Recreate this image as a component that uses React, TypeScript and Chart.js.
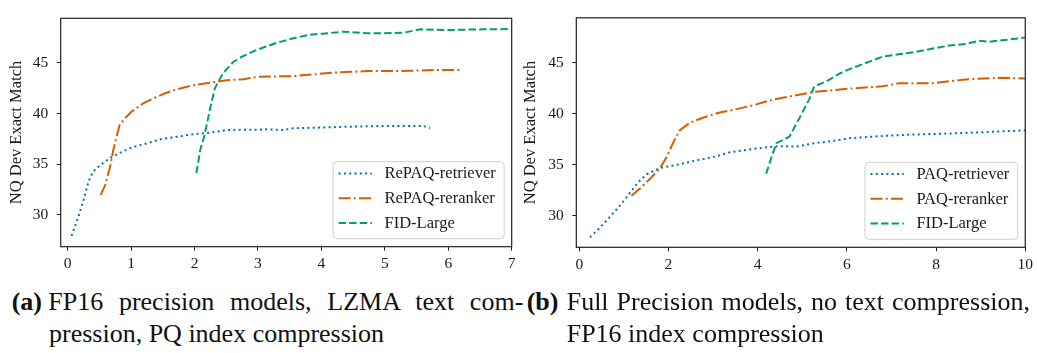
import React, { useEffect, useRef } from 'react';
import { Chart, registerables } from 'chart.js';
Chart.register(...registerables);

// ---------- data: panel (a) ----------
const retrieverA_x = [0.06, 0.17, 0.25, 0.33, 0.40, 0.51, 0.67, 0.82, 1.01, 1.25, 1.46, 1.72, 1.98, 2.24, 2.51, 2.77, 3.03, 3.14, 3.40, 3.56, 3.93, 4.45, 4.98, 5.61, 5.71];
const retrieverA_y = [27.9, 29.8, 31.45, 33.3, 34.25, 34.9, 35.6, 36.1, 36.65, 37.05, 37.45, 37.7, 37.95, 38.1, 38.37, 38.4, 38.4, 38.44, 38.37, 38.55, 38.6, 38.7, 38.77, 38.77, 38.54];
const rerankerA_x = [0.52, 0.59, 0.67, 0.72, 0.77, 0.82, 0.90, 1.01, 1.19, 1.35, 1.56, 1.72, 1.98, 2.24, 2.51, 2.77, 3.03, 3.56, 4.19, 4.72, 5.25, 5.77, 6.18];
const rerankerA_y = [31.95, 32.9, 34.75, 36.4, 37.7, 38.87, 39.5, 40.2, 41.0, 41.5, 42.06, 42.4, 42.8, 43.05, 43.3, 43.4, 43.65, 43.7, 44.04, 44.2, 44.2, 44.3, 44.3];
const fidA_x = [2.03, 2.09, 2.16, 2.24, 2.32, 2.45, 2.61, 2.74, 2.98, 3.30, 3.56, 3.82, 4.03, 4.35, 4.72, 4.98, 5.30, 5.56, 5.98, 6.56, 7.0];
const fidA_y = [34.1, 36.4, 37.9, 40.35, 42.5, 44.0, 45.1, 45.6, 46.3, 47.0, 47.45, 47.8, 47.9, 48.1, 47.94, 47.94, 48.0, 48.33, 48.26, 48.33, 48.36];

// ---------- data: panel (b) ----------
const retrieverB_x = [0.24, 0.46, 0.69, 0.91, 1.13, 1.32, 1.51, 1.81, 2.25, 2.63, 3.0, 3.37, 3.74, 4.12, 4.49, 4.86, 5.23, 5.76, 6.06, 6.81, 7.55, 8.3, 9.05, 10];
const retrieverB_y = [27.88, 28.8, 29.9, 30.97, 32.2, 33.27, 34.04, 34.66, 35.03, 35.42, 35.73, 36.19, 36.44, 36.65, 36.81, 36.75, 37.06, 37.36, 37.58, 37.8, 37.95, 38.04, 38.17, 38.35];
const rerankerB_x = [1.17, 1.36, 1.58, 1.81, 1.96, 2.10, 2.25, 2.48, 2.77, 3.15, 3.45, 3.89, 4.34, 4.79, 5.23, 6.06, 6.81, 7.18, 7.92, 8.67, 9.42, 10];
const rerankerB_y = [31.95, 32.65, 33.58, 34.66, 35.73, 37.1, 38.35, 39.1, 39.58, 40.1, 40.35, 40.8, 41.36, 41.73, 42.1, 42.44, 42.66, 42.97, 42.97, 43.34, 43.49, 43.43];
const fidB_x = [4.19, 4.30, 4.42, 4.71, 4.94, 5.16, 5.27, 5.53, 5.83, 6.06, 6.81, 7.55, 8.3, 8.67, 8.97, 9.2, 10];
const fidB_y = [34.1, 35.58, 37.1, 37.73, 39.58, 41.43, 42.66, 43.12, 43.9, 44.35, 45.58, 46.04, 46.66, 46.8, 47.12, 47.03, 47.43];

// ---------- labels / ticks ----------
const labelsA = ['RePAQ-retriever', 'RePAQ-reranker', 'FID-Large'];
const labelsB = ['PAQ-retriever', 'PAQ-reranker', 'FID-Large'];
const yTicks = [30, 35, 40, 45];
const xTicksA = [0, 1, 2, 3, 4, 5, 6, 7];
const xTicksB = [0, 2, 4, 6, 8, 10];
const yTitle = 'NQ Dev Exact Match';

const BLUE = '#0173B2';
const ORANGE = '#D55E00';
const GREEN = '#029E73';
const FONT = '"Liberation Serif", "DejaVu Serif", serif';
const INK = '#1a1a1a';

const DASH_DOT = [2, 3.3];
const DASH_DASHDOT = [12, 3.2, 2, 3.2];
const DASH_DASH = [7.4, 3.2];

const zip = (xs: number[], ys: number[]) => xs.map((x, i) => ({ x, y: ys[i] }));

const boxLegendPlugin = {
  id: 'boxLegend',
  afterDraw(chart: any) {
    const ctx = chart.ctx;
    const ca = chart.chartArea;
    ctx.save();
    ctx.strokeStyle = '#222';
    ctx.lineWidth = 1.2;
    ctx.setLineDash([]);
    ctx.strokeRect(ca.left, ca.top, ca.right - ca.left, ca.bottom - ca.top);
    ctx.restore();

    const ds = chart.data.datasets;
    ctx.save();
    ctx.font = `16.5px ${FONT}`;
    let tw = 0;
    ds.forEach((d: any) => { tw = Math.max(tw, ctx.measureText(d.label).width); });
    const w = 6 + 33.3 + 12.6 + tw + 8;
    const h = 77;
    const x1 = ca.right - 8 - w;
    const y1 = ca.bottom - 8.5 - h;
    ctx.beginPath();
    (ctx as any).roundRect(x1 + 0.5, y1 + 0.5, w, h, 4);
    ctx.fillStyle = 'rgba(255,255,255,0.85)';
    ctx.fill();
    ctx.strokeStyle = '#cfcfcf';
    ctx.lineWidth = 1;
    ctx.stroke();
    ds.forEach((d: any, i: number) => {
      const y = y1 + 12.3 + i * 24.7;
      ctx.beginPath();
      ctx.setLineDash(d.borderDash || []);
      ctx.strokeStyle = d.borderColor;
      ctx.lineWidth = d.borderWidth;
      ctx.moveTo(x1 + 6, y);
      ctx.lineTo(x1 + 39.3, y);
      ctx.stroke();
      ctx.setLineDash([]);
      ctx.fillStyle = INK;
      ctx.textBaseline = 'middle';
      ctx.textAlign = 'left';
      ctx.fillText(d.label, x1 + 51.9, y + 0.5);
    });
    ctx.restore();
  },
};

type PanelProps = {
  width: number;
  height: number;
  left: number;
  labels: string[];
  series: { x: number; y: number }[][];
  xMin: number; xMax: number; yMin: number; yMax: number;
  xTicks: number[];
  padTop: number; padRight: number;
  yAxisWidth: number; xAxisHeight: number;
  titlePad: number;
};

function Panel(p: PanelProps) {
  const ref = useRef<HTMLCanvasElement>(null);
  useEffect(() => {
    if (!ref.current) return;
    const colors = [BLUE, ORANGE, GREEN];
    const dashes = [DASH_DOT, DASH_DASHDOT, DASH_DASH];
    const chart = new Chart(ref.current, {
      type: 'line',
      data: {
        datasets: p.series.map((s, i) => ({
          label: p.labels[i],
          data: s,
          borderColor: colors[i],
          backgroundColor: colors[i],
          borderWidth: 2,
          borderDash: dashes[i],
          borderCapStyle: 'butt',
          pointRadius: 0,
          tension: 0,
          fill: false,
        })),
      },
      options: {
        responsive: false,
        animation: false,
        layout: { padding: { top: p.padTop, right: p.padRight, left: 0, bottom: 0 } },
        plugins: { legend: { display: false }, tooltip: { enabled: false } },
        scales: {
          x: {
            type: 'linear',
            min: p.xMin,
            max: p.xMax,
            afterBuildTicks: (s: any) => { s.ticks = p.xTicks.map((v) => ({ value: v })); },
            afterFit: (s: any) => { s.height = p.xAxisHeight; },
            border: { display: false },
            grid: { drawOnChartArea: false, drawTicks: true, tickLength: 4, color: '#222', lineWidth: 1 },
            ticks: { color: INK, font: { family: FONT, size: 15.5 }, padding: 4, maxRotation: 0, autoSkip: false },
          },
          y: {
            type: 'linear',
            min: p.yMin,
            max: p.yMax,
            afterBuildTicks: (s: any) => { s.ticks = yTicks.map((v) => ({ value: v })); },
            afterFit: (s: any) => { s.width = p.yAxisWidth; },
            border: { display: false },
            grid: { drawOnChartArea: false, drawTicks: true, tickLength: 4, color: '#222', lineWidth: 1 },
            ticks: { color: INK, font: { family: FONT, size: 15.5 }, padding: 8.5, autoSkip: false },
            title: { display: true, text: yTitle, color: INK, font: { family: FONT, size: 16.5 }, padding: { top: p.titlePad, bottom: 0 } },
          },
        },
      } as any,
      plugins: [boxLegendPlugin],
    });
    return () => chart.destroy();
  }, []);
  return (
    <canvas
      ref={ref}
      width={p.width}
      height={p.height}
      style={{ position: 'absolute', left: p.left, top: 0, width: p.width, height: p.height }}
    />
  );
}

const capStyle: React.CSSProperties = {
  position: 'absolute',
  fontFamily: FONT,
  fontSize: 26,
  lineHeight: '32px',
  color: '#111',
  whiteSpace: 'normal',
};
const justified: React.CSSProperties = { textAlign: 'justify', textAlignLast: 'justify' };

export default function App() {
  return (
    <div style={{ position: 'absolute', left: 0, top: 0, width: 1037, height: 353, background: '#fff', overflow: 'hidden' }}>
      <Panel
        width={520} height={275} left={0}
        labels={labelsA}
        series={[zip(retrieverA_x, retrieverA_y), zip(rerankerA_x, rerankerA_y), zip(fidA_x, fidA_y)]}
        xMin={-0.11} xMax={7} yMin={26.83} yMax={49.42}
        xTicks={xTicksA}
        padTop={18.3} padRight={8.3}
        yAxisWidth={60.7} xAxisHeight={28.3}
        titlePad={7.2}
      />
      <Panel
        width={520} height={275} left={517}
        labels={labelsB}
        series={[zip(retrieverB_x, retrieverB_y), zip(rerankerB_x, rerankerB_y), zip(fidB_x, fidB_y)]}
        xMin={-0.067} xMax={10} yMin={26.9} yMax={49.37}
        xTicks={xTicksB}
        padTop={4} padRight={10.7}
        yAxisWidth={59.3} xAxisHeight={27.7}
        titlePad={3.9}
      />
      <div style={{ ...capStyle, left: 11.7, top: 286.2, fontWeight: 'bold' }}>(a)</div>
      <div style={{ ...capStyle, ...justified, left: 48.3, top: 286.2, width: 475 }}>
        FP16 precision models, LZMA text com-
      </div>
      <div style={{ ...capStyle, left: 49, top: 318.4 }}>pression, PQ index compression</div>
      <div style={{ ...capStyle, left: 526.7, top: 286.2, fontWeight: 'bold' }}>(b)</div>
      <div style={{ ...capStyle, ...justified, left: 566.7, top: 286.2, width: 463.3 }}>
        Full Precision models, no text compression,
      </div>
      <div style={{ ...capStyle, left: 566.7, top: 318.4 }}>FP16 index compression</div>
    </div>
  );
}
